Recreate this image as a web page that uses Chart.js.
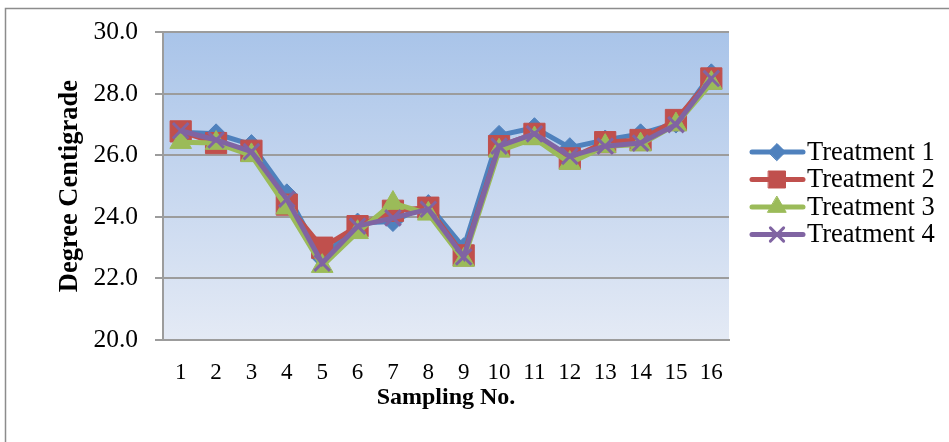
<!DOCTYPE html>
<html>
<head>
<meta charset="utf-8">
<script src="https://cdn.jsdelivr.net/npm/chart.js@4"></script>
<style>
  html, body { margin: 0; padding: 0; background: #fff; }
  #wrap { width: 949px; height: 442px; position: relative; }
</style>
</head>
<body>
<div id="wrap"><canvas id="tempChart" width="949" height="442"></canvas></div>
<script>
const samplingNo = ["1", "2", "3", "4", "5", "6", "7", "8", "9", "10", "11", "12", "13", "14", "15", "16"];
const treatment1 = [26.75, 26.7, 26.35, 24.75, 22.65, 23.8, 23.85, 24.4, 23.0, 26.65, 26.9, 26.25, 26.5, 26.7, 27.05, 28.65];
const treatment2 = [26.78, 26.4, 26.15, 24.4, 23.0, 23.7, 24.2, 24.3, 22.75, 26.3, 26.7, 25.9, 26.43, 26.5, 27.15, 28.5];
const treatment3 = [26.43, 26.4, 26.0, 24.3, 22.4, 23.5, 24.45, 24.1, 22.6, 26.15, 26.55, 25.75, 26.3, 26.35, 27.0, 28.35];
const treatment4 = [26.8, 26.5, 26.12, 24.58, 22.5, 23.7, 23.97, 24.25, 22.7, 26.3, 26.7, 25.97, 26.3, 26.4, 27.0, 28.5];

const serif = "'Liberation Serif', 'Times New Roman', serif";
const gridGray = "#9c9c9c";

const seriesStyles = [
    { label: "Treatment 1", data: treatment1, color: "#4f81bd", pointStyle: "rectRot", radius: 10 },
    { label: "Treatment 2", data: treatment2, color: "#c0504d", pointStyle: "rect", radius: 15 },
    { label: "Treatment 3", data: treatment3, color: "#9bbb59", pointStyle: "triangle", radius: 12.5 },
    { label: "Treatment 4", data: treatment4, color: "#8064a2", pointStyle: "crossRot", radius: 11 },
];

const backdropPlugin = {
    id: "backdropPlugin",
    beforeDraw(chart) {
        const { ctx, chartArea } = chart;
        ctx.save();
        ctx.strokeStyle = "#8c8c8c";
        ctx.lineWidth = 1.5;
        ctx.strokeRect(5.5, 8.5, 1000, 500);
        const grad = ctx.createLinearGradient(0, chartArea.top, 0, chartArea.bottom);
        grad.addColorStop(0, "#a9c4e9");
        grad.addColorStop(1, "#e4eaf5");
        ctx.fillStyle = grad;
        ctx.fillRect(chartArea.left, chartArea.top, chartArea.right - chartArea.left, chartArea.bottom - chartArea.top);
        ctx.restore();
    },
};

const legendPlugin = {
    id: "legendPlugin",
    afterDraw(chart) {
        const { ctx } = chart;
        ctx.save();
        seriesStyles.forEach((s, i) => {
            const y = 152 + i * 27.5;
            ctx.strokeStyle = s.color;
            ctx.fillStyle = s.color;
            ctx.lineWidth = 5;
            ctx.lineCap = "round";
            ctx.beginPath();
            ctx.moveTo(752, y);
            ctx.lineTo(803, y);
            ctx.stroke();
            ctx.lineWidth = s.pointStyle === "crossRot" ? 3 : 1;
            Chart.helpers.drawPoint(ctx, {
                pointStyle: s.pointStyle,
                radius: s.pointStyle === "rect" ? 12 : s.radius * 0.85,
                borderWidth: ctx.lineWidth,
                rotation: 0,
            }, 777, y);
            ctx.fillStyle = "#000";
            ctx.font = "26.5px " + serif;
            ctx.textBaseline = "middle";
            ctx.textAlign = "left";
            ctx.fillText(s.label, 807, y + 1);
        });
        ctx.restore();
    },
};

new Chart(document.getElementById("tempChart"), {
    type: "line",
    data: {
        labels: samplingNo,
        datasets: seriesStyles.map((s, i) => ({
            label: s.label,
            data: s.data,
            borderColor: s.color,
            backgroundColor: s.color,
            borderWidth: 5,
            pointStyle: s.pointStyle,
            pointRadius: s.radius,
            pointBorderWidth: s.pointStyle === "crossRot" ? 3 : 1,
            pointBorderColor: s.color,
            pointBackgroundColor: s.color,
            tension: 0,
            order: 4 - i,
        })),
    },
    options: {
        responsive: false,
        animation: false,
        devicePixelRatio: 1,
        layout: { padding: { left: 50, top: 30, right: 220, bottom: 0 } },
        plugins: {
            legend: { display: false },
            tooltip: { enabled: false },
        },
        scales: {
            x: {
                offset: true,
                grid: { display: false, drawTicks: false },
                border: { color: gridGray, width: 2 },
                ticks: { color: "#000", padding: 19, maxRotation: 0, autoSkip: false, font: { family: serif, size: 23 } },
                title: {
                    display: true,
                    text: "Sampling No.",
                    color: "#000",
                    font: { family: serif, size: 24, weight: "bold" },
                    padding: { top: 0, bottom: 30 },
                },
                afterFit(scale) { scale.height = 102; },
            },
            y: {
                min: 20,
                max: 30,
                grid: { color: gridGray, lineWidth: 2, tickLength: 8 },
                border: { color: gridGray, width: 2 },
                ticks: {
                    stepSize: 2,
                    color: "#000",
                    padding: 17,
                    font: { family: serif, size: 25.5 },
                    callback: (v) => Number(v).toFixed(1),
                },
                title: {
                    display: true,
                    text: "Degree Centigrade",
                    color: "#000",
                    font: { family: serif, size: 26.5, weight: "bold" },
                    padding: { top: 4, bottom: 0 },
                },
                afterFit(scale) { scale.width = 113; },
            },
        },
    },
    plugins: [backdropPlugin, legendPlugin],
});
</script>
</body>
</html>
